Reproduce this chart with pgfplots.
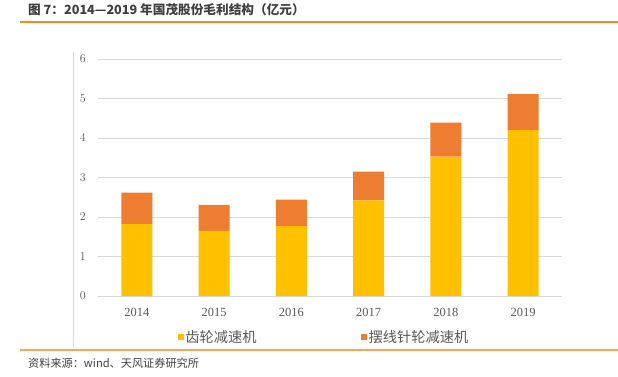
\documentclass[border=0pt]{standalone}
\usepackage{pgfplots}
\pgfplotsset{compat=1.18}
\usepackage{fontspec}
\setmainfont{Liberation Serif}
\newfontfamily\cjk{Noto Sans CJK SC}
\definecolor{gridc}{HTML}{D9D9D9}
\definecolor{txt}{HTML}{595959}
\definecolor{ttl}{HTML}{404040}
\definecolor{yel}{HTML}{FFC000}
\definecolor{org}{HTML}{ED7D31}
\definecolor{topline}{HTML}{F38A2C}
\definecolor{botline}{HTML}{F8A55E}
\begin{document}
\begin{tikzpicture}
\useasboundingbox (0bp,0bp) rectangle (618bp,377bp);
\node[anchor=west, font=\cjk\bfseries\fontsize{12.7}{14}\selectfont, text=ttl, inner sep=0] at (28bp,367bp) {图 7：2014—2019 年国茂股份毛利结构（亿元）};
\draw[topline, line width=1.5bp] (20bp,355bp) -- (618bp,355bp);
\draw[gridc, line width=0.8bp] (73bp,325bp) -- (73bp,30bp);
\draw[botline, line width=1.2bp] (20bp,27bp) -- (618bp,27bp);
\node[anchor=west, font=\cjk\fontsize{11.2}{12}\selectfont, text=ttl, inner sep=0] at (28bp,14bp) {资料来源：wind、天风证券研究所};
\begin{axis}[
  at={(136.9bp,81bp)}, anchor=origin,
  scale only axis, width=463.4bp, height=237bp,
  ymin=0, ymax=6, xmin=-0.5, xmax=5.5,
  ybar stacked, bar width=31bp,
  axis line style={draw=none},
  major tick style={draw=none},
  ytick={0,1,2,3,4,5,6},
  ymajorgrids, grid style={gridc, line width=1bp},
  xtick={0,1,2,3,4,5},
  xticklabels={2014,2015,2016,2017,2018,2019},
  tick label style={font=\fontsize{12.5}{13}\selectfont, text=txt},
  yticklabel style={xshift=-9bp},
  xticklabel style={yshift=-9bp},
  legend style={at={(0.165,-0.173)}, anchor=west, draw=none, fill=none,
    legend columns=2, font=\cjk\fontsize{14.3}{14.3}\selectfont, text=txt,
    nodes={inner sep=1.5bp},
    /tikz/every even column/.append style={column sep=103bp}},
  legend image code/.code={\fill[#1] (0bp,-3bp) rectangle (6bp,3bp);},
  clip=false,
]
\addplot[fill=yel, draw=none] coordinates {(0,1.82) (1,1.65) (2,1.77) (3,2.42) (4,3.53) (5,4.20)};
\addplot[fill=org, draw=none] coordinates {(0,0.80) (1,0.66) (2,0.67) (3,0.73) (4,0.86) (5,0.91)};
\legend{齿轮减速机,摆线针轮减速机}
\end{axis}
\end{tikzpicture}
\end{document}
